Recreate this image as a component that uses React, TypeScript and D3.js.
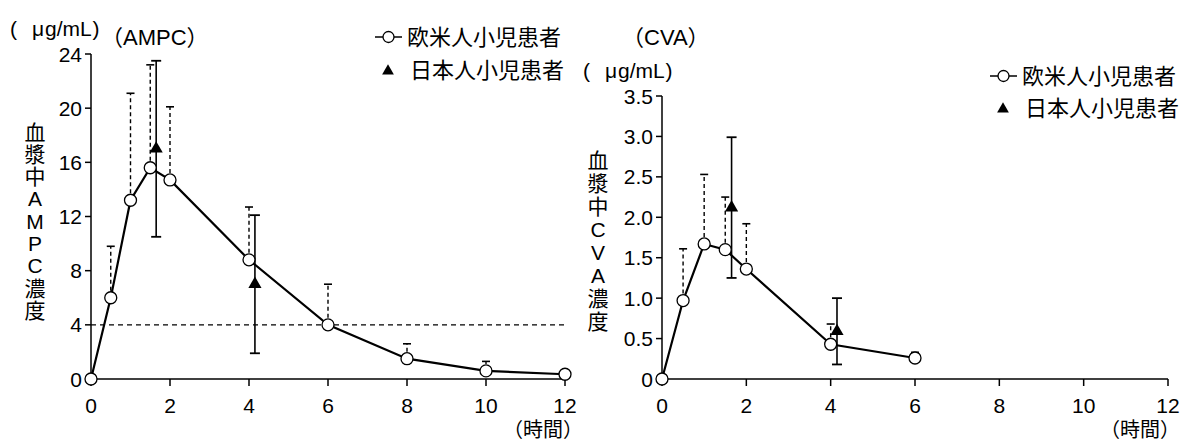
import React from "react";
import * as d3 from "d3";

// AMPC plasma concentration (µg/mL) vs time (h)
const ampcTimes = [0, 0.5, 1, 1.5, 2, 4, 6, 8, 10, 12];
const ampcWestMean = [0, 6.0, 13.2, 15.6, 14.7, 8.8, 4.0, 1.5, 0.6, 0.35];
const ampcWestSD = [0, 3.8, 7.9, 7.6, 5.4, 3.9, 3.0, 1.1, 0.7, 0];
const ampcJpTimes = [1.65, 4.15];
const ampcJpMean = [17.0, 7.0];
const ampcJpSD = [6.5, 5.1];
const ampcYTicks = [0, 4, 8, 12, 16, 20, 24];
const ampcRefLevel = 4;

// CVA plasma concentration (µg/mL) vs time (h)
const cvaTimes = [0, 0.5, 1, 1.5, 2, 4, 6];
const cvaWestMean = [0, 0.97, 1.67, 1.6, 1.36, 0.43, 0.26];
const cvaWestSD = [0, 0.64, 0.86, 0.65, 0.56, 0.25, 0.07];
const cvaJpTimes = [1.65, 4.15];
const cvaJpMean = [2.12, 0.59];
const cvaJpSD = [0.87, 0.41];
const cvaYTicks = [0, 0.5, 1.0, 1.5, 2.0, 2.5, 3.0, 3.5];

const xTicks = [0, 2, 4, 6, 8, 10, 12];
const westLabel = "欧米人小児患者";
const japanLabel = "日本人小児患者";

const FONT = "'Liberation Sans', 'Noto Sans CJK JP', sans-serif";

type PanelProps = {
  x0: number;
  x1: number;
  y0: number;
  y1: number;
  yMax: number;
  yTicks: number[];
  yFmt: (v: number) => string;
  times: number[];
  mean: number[];
  sd: number[];
  jpTimes: number[];
  jpMean: number[];
  jpSD: number[];
  refLevel?: number;
};

function Panel(p: PanelProps) {
  const x = d3.scaleLinear().domain([0, 12]).range([p.x0, p.x1]);
  const y = d3.scaleLinear().domain([0, p.yMax]).range([p.y0, p.y1]);
  const line = d3
    .line<number>()
    .x((_, i) => x(p.times[i]))
    .y((d) => y(d));
  const tri = d3.symbol().type(d3.symbolTriangle).size(75)() as string;

  return (
    <g>
      {/* axes */}
      <line x1={p.x0} x2={p.x0} y1={p.y1} y2={p.y0} stroke="#000" strokeWidth={1.5} />
      <line x1={p.x0} x2={p.x1} y1={p.y0} y2={p.y0} stroke="#000" strokeWidth={1.5} />
      {p.yTicks.map((t) => (
        <g key={"y" + t}>
          <line x1={p.x0 - 6} x2={p.x0} y1={y(t)} y2={y(t)} stroke="#000" strokeWidth={1.5} />
          <text
            x={p.x0 - 9}
            y={y(t)}
            textAnchor="end"
            dominantBaseline="central"
            fontSize={21}
            fontFamily={FONT}
          >
            {p.yFmt(t)}
          </text>
        </g>
      ))}
      {xTicks.map((t) => (
        <g key={"x" + t}>
          <line x1={x(t)} x2={x(t)} y1={p.y0} y2={p.y0 + 7} stroke="#000" strokeWidth={1.5} />
          <text
            x={x(t)}
            y={p.y0 + 26}
            textAnchor="middle"
            dominantBaseline="central"
            fontSize={21}
            fontFamily={FONT}
          >
            {t}
          </text>
        </g>
      ))}

      {p.refLevel !== undefined && (
        <line
          x1={p.x0}
          x2={p.x1}
          y1={y(p.refLevel)}
          y2={y(p.refLevel)}
          stroke="#000"
          strokeWidth={1.3}
          strokeDasharray="5,4"
        />
      )}

      {/* upper SD bars, western patients */}
      {p.times.map((t, i) =>
        p.sd[i] > 0 ? (
          <g key={"e" + i}>
            <line
              x1={x(t)}
              x2={x(t)}
              y1={y(p.mean[i])}
              y2={y(p.mean[i] + p.sd[i])}
              stroke="#000"
              strokeWidth={1.4}
              strokeDasharray="4,3"
            />
            <line
              x1={x(t) - 4}
              x2={x(t) + 4}
              y1={y(p.mean[i] + p.sd[i])}
              y2={y(p.mean[i] + p.sd[i])}
              stroke="#000"
              strokeWidth={1.6}
            />
          </g>
        ) : null
      )}

      {/* mean curve */}
      <path d={line(p.mean) as string} fill="none" stroke="#000" strokeWidth={2.2} />

      {/* SD bars, Japanese patients */}
      {p.jpTimes.map((t, i) => (
        <g key={"j" + i}>
          <line
            x1={x(t)}
            x2={x(t)}
            y1={y(p.jpMean[i] - p.jpSD[i])}
            y2={y(p.jpMean[i] + p.jpSD[i])}
            stroke="#000"
            strokeWidth={1.6}
          />
          {[p.jpMean[i] - p.jpSD[i], p.jpMean[i] + p.jpSD[i]].map((v, k) => (
            <line
              key={k}
              x1={x(t) - 5}
              x2={x(t) + 5}
              y1={y(v)}
              y2={y(v)}
              stroke="#000"
              strokeWidth={1.8}
            />
          ))}
        </g>
      ))}

      {p.times.map((t, i) => (
        <circle
          key={"c" + i}
          cx={x(t)}
          cy={y(p.mean[i])}
          r={6}
          fill="#fff"
          stroke="#000"
          strokeWidth={1.3}
        />
      ))}

      {p.jpTimes.map((t, i) => (
        <path
          key={"t" + i}
          d={tri}
          transform={`translate(${x(t)},${y(p.jpMean[i])})`}
          fill="#000"
        />
      ))}
    </g>
  );
}

function Legend({ x, y1, y2 }: { x: number; y1: number; y2: number }) {
  const tri = d3.symbol().type(d3.symbolTriangle).size(60)() as string;
  return (
    <g fontFamily={FONT} fontSize={22}>
      <line x1={x} x2={x + 27} y1={y1} y2={y1} stroke="#000" strokeWidth={1.5} />
      <circle cx={x + 13.5} cy={y1} r={5.5} fill="#fff" stroke="#000" strokeWidth={1.3} />
      <text x={x + 32} y={y1} dominantBaseline="central">
        {westLabel}
      </text>
      <path d={tri} transform={`translate(${x + 13},${y2 + 1})`} fill="#000" />
      <text x={x + 35} y={y2} dominantBaseline="central">
        {japanLabel}
      </text>
    </g>
  );
}

function Unit({ x, y }: { x: number; y: number }) {
  return (
    <g fontFamily={FONT} fontSize={21}>
      <text x={x + 10} y={y} dominantBaseline="central">(</text>
      <text x={x + 32} y={y} dominantBaseline="central">μ</text>
      <text x={x + 45} y={y} dominantBaseline="central">g/mL</text>
      <text x={x + 92.5} y={y} dominantBaseline="central">)</text>
    </g>
  );
}

function VLabel({ x, y, step, chars }: { x: number; y: number; step: number; chars: string[] }) {
  return (
    <g fontFamily={FONT} fontSize={21}>
      {chars.map((c, i) => (
        <text key={i} x={x} y={y + i * step} textAnchor="middle" dominantBaseline="central">
          {c}
        </text>
      ))}
    </g>
  );
}

export default function App() {
  return (
    <svg
      width={1181}
      height={441}
      style={{ position: "absolute", left: 0, top: 0, background: "#fff" }}
    >
      <Unit x={0} y={28} />
      <text x={101} y={37} dominantBaseline="central" fontFamily={FONT} fontSize={22}>
        （AMPC）
      </text>
      <Legend x={375} y1={37} y2={70} />
      <VLabel x={35} y={132} step={22.3} chars={["血", "漿", "中", "A", "M", "P", "C", "濃", "度"]} />
      <Panel
        x0={91}
        x1={565}
        y0={379}
        y1={54}
        yMax={24}
        yTicks={ampcYTicks}
        yFmt={(v) => String(v)}
        times={ampcTimes}
        mean={ampcWestMean}
        sd={ampcWestSD}
        jpTimes={ampcJpTimes}
        jpMean={ampcJpMean}
        jpSD={ampcJpSD}
        refLevel={ampcRefLevel}
      />
      <text x={503} y={430} dominantBaseline="central" fontFamily={FONT} fontSize={20}>
        （時間）
      </text>

      <Unit x={573} y={70} />
      <text x={622} y={37} dominantBaseline="central" fontFamily={FONT} fontSize={22}>
        （CVA）
      </text>
      <Legend x={990} y1={76} y2={108} />
      <VLabel x={598} y={160} step={23} chars={["血", "漿", "中", "C", "V", "A", "濃", "度"]} />
      <Panel
        x0={662}
        x1={1168}
        y0={379}
        y1={96}
        yMax={3.5}
        yTicks={cvaYTicks}
        yFmt={(v) => (v === 0 ? "0" : v.toFixed(1))}
        times={cvaTimes}
        mean={cvaWestMean}
        sd={cvaWestSD}
        jpTimes={cvaJpTimes}
        jpMean={cvaJpMean}
        jpSD={cvaJpSD}
      />
      <text x={1100} y={430} dominantBaseline="central" fontFamily={FONT} fontSize={20}>
        （時間）
      </text>
    </svg>
  );
}
